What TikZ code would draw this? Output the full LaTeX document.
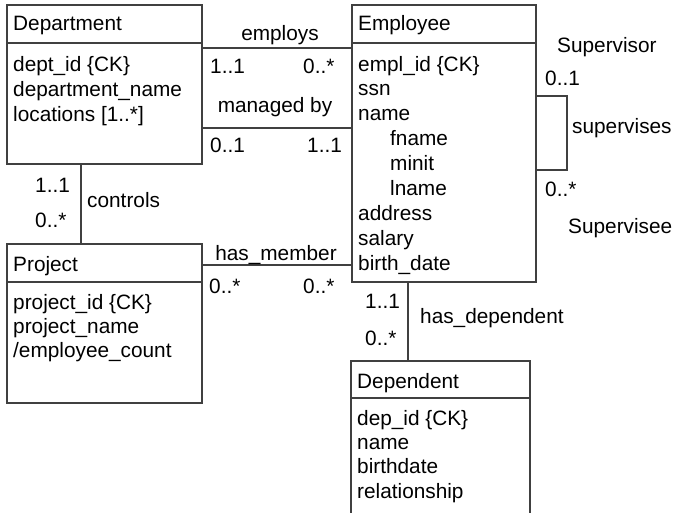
\documentclass[tikz,border=0pt]{standalone}
\usepackage{fontspec}
\setmainfont{Liberation Sans}
\usetikzlibrary{positioning}
\begin{document}
\begin{tikzpicture}[x=1pt, y=-1pt,
    classHead/.style={draw=black!75, line width=1.1pt, rectangle, inner sep=0pt, outer sep=0pt, anchor=north west, minimum height=38pt},
    classBody/.style={draw=black!75, line width=1.1pt, rectangle, inner sep=0pt, outer sep=0pt},
    umlText/.style={anchor=base west, inner sep=0pt, font={\fontsize{20.8}{25}\selectfont}},
    umlLabel/.style={umlText, anchor=base},
    assoc/.style={draw=black!75, line width=1.1pt},
]
\useasboundingbox (0,0) rectangle (676,512);

% Department
\node[classHead, minimum width=195pt] (deptHead) at (7,5) {};
\node[classBody, minimum width=195pt, minimum height=121pt, below=0pt of deptHead] (deptBody) {};
\node[umlText] (deptTitle) at (13,30) {Department};
\node[umlText] (deptAttrA) at (13,71) {dept\_id \{CK\}};
\node[umlText] (deptAttrB) at (13,96) {department\_name};
\node[umlText] (deptAttrC) at (13,121) {locations [1..*]};

% Employee
\node[classHead, minimum width=184pt] (empHead) at (352,5) {};
\node[classBody, minimum width=184pt, minimum height=239pt, below=0pt of empHead] (empBody) {};
\node[umlText] (empTitle) at (358,30) {Employee};
\node[umlText] (empAttrA) at (358,71) {empl\_id \{CK\}};
\node[umlText] (empAttrB) at (358,95.5) {ssn};
\node[umlText] (empAttrC) at (358,120) {name};
\node[umlText] (empAttrD) at (390,145) {fname};
\node[umlText] (empAttrE) at (390,170) {minit};
\node[umlText] (empAttrF) at (390,195) {lname};
\node[umlText] (empAttrG) at (358,220) {address};
\node[umlText] (empAttrH) at (358,245) {salary};
\node[umlText] (empAttrI) at (358,270) {birth\_date};

% Project
\node[classHead, minimum width=195pt] (projHead) at (7,244) {};
\node[classBody, minimum width=195pt, minimum height=121pt, below=0pt of projHead] (projBody) {};
\node[umlText] (projTitle) at (13,271) {Project};
\node[umlText] (projAttrA) at (13,309) {project\_id \{CK\}};
\node[umlText] (projAttrB) at (13,333) {project\_name};
\node[umlText] (projAttrC) at (13,357) {/employee\_count};

% Dependent
\node[classHead, minimum width=179pt, minimum height=37pt] (depHead) at (351,361) {};
\node[classBody, minimum width=179pt, minimum height=130pt, below=0pt of depHead] (depBody) {};
\node[umlText] (depTitle) at (357,388) {Dependent};
\node[umlText] (depAttrA) at (357,425) {dep\_id \{CK\}};
\node[umlText] (depAttrB) at (357,449) {name};
\node[umlText] (depAttrC) at (357,473) {birthdate};
\node[umlText] (depAttrD) at (357,498) {relationship};

% Associations
\draw[assoc] (deptBody.east |- 0,48) -- (empBody.west |- 0,48);
\node[umlLabel] (employsLbl) at (280,40) {employs};
\node[umlText] (employsM1) at (210,73) {1..1};
\node[umlText] (employsM2) at (303,73) {0..*};

\draw[assoc] (deptBody.east |- 0,128) -- (empBody.west |- 0,128);
\node[umlLabel] (managedLbl) at (275,112) {managed by};
\node[umlText] (managedM1) at (210,152) {0..1};
\node[umlText] (managedM2) at (307,152) {1..1};

\draw[assoc] (deptBody.south -| 81,0) -- (projHead.north -| 81,0);
\node[umlText] (controlsLbl) at (87,207) {controls};
\node[umlText] (controlsM1) at (35,192) {1..1};
\node[umlText] (controlsM2) at (35,227) {0..*};

\draw[assoc] (projHead.east |- 0,265) -- (empBody.west |- 0,265);
\node[umlLabel] (memberLbl) at (276,260) {has\_member};
\node[umlText] (memberM1) at (209,293) {0..*};
\node[umlText] (memberM2) at (303,293) {0..*};

\draw[assoc] (empBody.south -| 408,0) -- (depHead.north -| 408,0);
\node[umlText] (dependentLbl) at (420,323) {has\_dependent};
\node[umlText] (dependentM1) at (365,308) {1..1};
\node[umlText] (dependentM2) at (365,345) {0..*};

% Self association
\coordinate (supCorner) at (567,170);
\draw[assoc] (empBody.east |- 0,96) -| (supCorner) -- (empBody.east |- supCorner);
\node[umlText] (supRoleA) at (557,52) {Supervisor};
\node[umlText] (supM1) at (545,85) {0..1};
\node[umlText] (supLbl) at (572,133) {supervises};
\node[umlText] (supM2) at (545,196) {0..*};
\node[umlText] (supRoleB) at (568,233) {Supervisee};
\end{tikzpicture}
\end{document}
